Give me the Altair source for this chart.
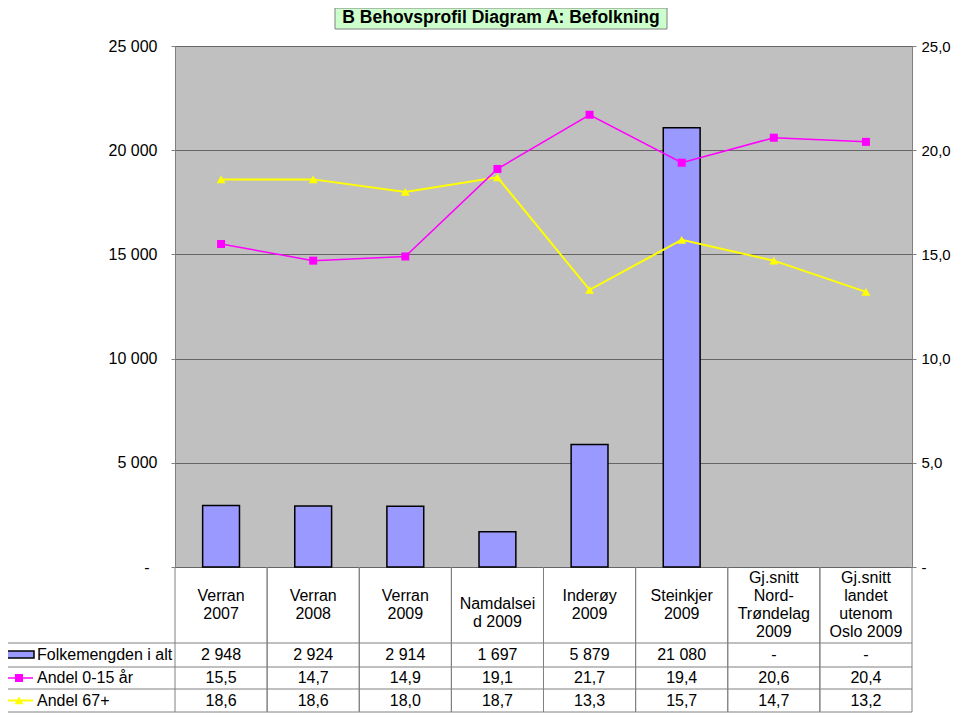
import altair as alt
import pandas as pd

categories = ["Verran 2007", "Verran 2008", "Verran 2009", "Namdalseid 2009",
              "Inderøy 2009", "Steinkjer 2009", "Gj.snitt Nord-Trøndelag 2009",
              "Gj.snitt landet utenom Oslo 2009"]
header_labels = ["Verran\n2007", "Verran\n2008", "Verran\n2009", "Namdalsei\nd 2009",
                 "Inderøy\n2009", "Steinkjer\n2009", "Gj.snitt\nNord-\nTrøndelag\n2009",
                 "Gj.snitt\nlandet\nutenom\nOslo 2009"]
folkemengde = [2948, 2924, 2914, 1697, 5879, 21080, None, None]
andel_0_15 = [15.5, 14.7, 14.9, 19.1, 21.7, 19.4, 20.6, 20.4]
andel_67 = [18.6, 18.6, 18.0, 18.7, 13.3, 15.7, 14.7, 13.2]
series_names = ["Folkemengden i alt", "Andel 0-15 år", "Andel 67+"]
title_text = "B Behovsprofil Diagram A: Befolkning"

FONT = "Liberation Sans"
W, H = 737, 521


def fmt_int(v):
    return "-" if v is None else f"{v:,}".replace(",", " ")


def fmt_dec(v):
    return f"{v:.1f}".replace(".", ",")


df = pd.DataFrame({
    "cat": categories,
    "label": header_labels,
    "nlines": [len(s.split("\n")) for s in header_labels],
    "folk": folkemengde,
    "a015": andel_0_15,
    "a67": andel_67,
    "folk_s": [fmt_int(v) for v in folkemengde],
    "a015_s": [fmt_dec(v) for v in andel_0_15],
    "a67_s": [fmt_dec(v) for v in andel_67],
})

one = pd.DataFrame({"a": [0]})

xscale = alt.Scale(domain=categories, paddingInner=0, paddingOuter=0)
xenc = alt.X("cat:N", sort=categories, scale=xscale, axis=None)

base = alt.Chart(df)

bars = base.mark_bar(color="#9999FF", stroke="black", strokeWidth=1.5,
                     width=alt.RelativeBandSize(0.4)).encode(
    x=xenc,
    y=alt.Y("folk:Q", scale=alt.Scale(domain=[0, 25000], nice=False),
            axis=alt.Axis(values=[0, 5000, 10000, 15000, 20000, 25000],
                          labelExpr="datum.value == 0 ? '-' : replace(format(datum.value, ','), ',', ' ')",
                          tickSize=4,
                          labelPadding={"condition": {"test": "datum.value == 0", "value": 22}, "value": 14},
                          labelFontSize=16, labelFont=FONT,
                          labelColor="black", domain=False, grid=True, gridColor="#666666",
                          gridWidth=1, tickColor="#808080", title=None)),
)

yr = alt.Scale(domain=[0, 25], nice=False)
right_axis = alt.Axis(orient="right", values=[0, 5, 10, 15, 20, 25],
                      labelExpr="datum.value == 0 ? '-' : replace(format(datum.value, '.1f'), '.', ',')",
                      tickSize=4, labelPadding=5, labelFontSize=15, labelFont=FONT,
                      labelColor="black", domain=False, grid=False, tickColor="#808080",
                      title=None)

l67 = base.mark_line(color="#FFFF00", strokeWidth=2).encode(
    x=xenc, y=alt.Y("a67:Q", scale=yr, axis=right_axis))
p67 = base.mark_point(shape="triangle-up", filled=True, color="#FFFF00", size=80,
                      opacity=1).encode(x=xenc, y=alt.Y("a67:Q", scale=yr, axis=right_axis))
l015 = base.mark_line(color="#FF00FF", strokeWidth=1.5).encode(
    x=xenc, y=alt.Y("a015:Q", scale=yr, axis=right_axis))
p015 = base.mark_point(shape="square", filled=True, color="#FF00FF", size=64,
                       opacity=1).encode(x=xenc, y=alt.Y("a015:Q", scale=yr, axis=right_axis))

lines = alt.layer(l67, p67, l015, p015)

# ---- data table below the plot ----
TBL = "#808080"
row_y = [H + 76, H + 100, H + 122, H + 145]  # row boundaries
row_c = [(row_y[0] + row_y[1]) / 2, (row_y[1] + row_y[2]) / 2, (row_y[2] + row_y[3]) / 2]

vlines0 = base.mark_rule(color=TBL, strokeWidth=1).encode(
    x=alt.X("cat:N", sort=categories, scale=xscale, axis=None, bandPosition=0),
    y=alt.value(H), y2=alt.value(row_y[3]))
vlines1 = base.mark_rule(color=TBL, strokeWidth=1).encode(
    x=alt.X("cat:N", sort=categories, scale=xscale, axis=None, bandPosition=1),
    y=alt.value(H), y2=alt.value(row_y[3]))

hrules = [alt.Chart(one).mark_rule(color=TBL, strokeWidth=1).encode(
    x=alt.value(-175), x2=alt.value(W), y=alt.value(yy)) for yy in row_y]
leftedge = alt.Chart(one).mark_rule(color=TBL, strokeWidth=1).encode(
    x=alt.value(-175), y=alt.value(row_y[0]), y2=alt.value(row_y[3]))

LH = 18.3
head_center = H + 38


def header_layer(pred, first_line_y):
    return base.transform_filter(pred).mark_text(
        font=FONT, fontSize=16, lineBreak="\n", lineHeight=LH,
        baseline="middle", align="center", color="black").encode(
        x=xenc, y=alt.value(first_line_y), text="label:N")


hdr2 = header_layer((alt.datum.nlines == 2) & (alt.datum.cat != "Namdalseid 2009"),
                    head_center - LH / 2)
hdr2b = header_layer(alt.datum.cat == "Namdalseid 2009", head_center - LH / 2 + 8)
hdr4 = header_layer(alt.datum.nlines == 4, head_center - 1.5 * LH)

r1 = base.mark_text(font=FONT, fontSize=16, baseline="middle", align="center", color="black").encode(
    x=xenc, y=alt.value(row_c[0]), text="folk_s:N")
r2 = base.mark_text(font=FONT, fontSize=16, baseline="middle", align="center", color="black").encode(
    x=xenc, y=alt.value(row_c[1]), text="a015_s:N")
r3 = base.mark_text(font=FONT, fontSize=16, baseline="middle", align="center", color="black").encode(
    x=xenc, y=alt.value(row_c[2]), text="a67_s:N")

names = [alt.Chart(one).mark_text(font=FONT, fontSize=16, baseline="middle", align="left",
                                  color="black", text=n).encode(
    x=alt.value(-138), y=alt.value(row_c[i])) for i, n in enumerate(series_names)]

swatch = alt.Chart(one).mark_rect(fill="#9999FF", stroke="black", strokeWidth=1.5).encode(
    x=alt.value(-170), x2=alt.value(-141), y=alt.value(row_c[0] - 4), y2=alt.value(row_c[0] + 3))
sym_l1 = alt.Chart(one).mark_rule(color="#FF00FF", strokeWidth=1.5).encode(
    x=alt.value(-170), x2=alt.value(-142), y=alt.value(row_c[1]))
sym_p1 = alt.Chart(one).mark_point(shape="square", filled=True, color="#FF00FF", size=64,
                                   opacity=1).encode(x=alt.value(-156), y=alt.value(row_c[1]))
sym_l2 = alt.Chart(one).mark_rule(color="#FFFF00", strokeWidth=2).encode(
    x=alt.value(-170), x2=alt.value(-142), y=alt.value(row_c[2]))
sym_p2 = alt.Chart(one).mark_point(shape="triangle-up", filled=True, color="#FFFF00", size=80,
                                   opacity=1).encode(x=alt.value(-156), y=alt.value(row_c[2]))

# ---- title box ----
tbox = alt.Chart(one).mark_rect(fill="#CCFFCC", stroke="#808080", strokeWidth=1).encode(
    x=alt.value(160), x2=alt.value(492), y=alt.value(-38), y2=alt.value(-17))
ttext = alt.Chart(one).mark_text(font=FONT, fontSize=17.5, fontWeight="bold", color="black",
                                 baseline="middle", align="center", text=title_text).encode(
    x=alt.value(326), y=alt.value(-28))

chart = alt.layer(
    bars, lines, vlines0, vlines1, *hrules, leftedge, hdr2, hdr2b, hdr4, r1, r2, r3, *names,
    swatch, sym_l1, sym_p1, sym_l2, sym_p2, tbox, ttext
).resolve_scale(y="independent").properties(
    width=W, height=H,
    autosize=alt.AutoSizeParams(type="none"),
    padding={"left": 167, "top": 38, "right": 40, "bottom": 146},
    background="white",
).configure_view(fill="#C0C0C0", stroke="#808080", strokeWidth=1)

chart.save("out.html", embed_options={"renderer": "svg", "actions": False})
